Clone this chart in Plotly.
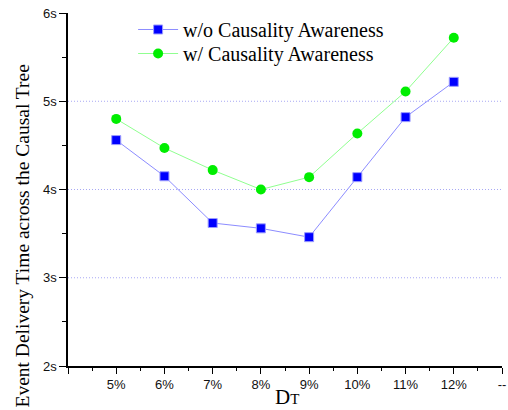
import plotly.graph_objects as go

# Delay threshold positions (4 = axis start, 13 = trailing "--" slot)
x_pos = [5, 6, 7, 8, 9, 10, 11, 12]
tick_vals = [4, 5, 6, 7, 8, 9, 10, 11, 12, 13]
tick_text = ["", "5%", "6%", "7%", "8%", "9%", "10%", "11%", "12%", "--"]

# Event delivery time (seconds)
without_awareness = [4.56, 4.15, 3.62, 3.56, 3.46, 4.14, 4.82, 5.22]
with_awareness = [4.80, 4.47, 4.22, 4.00, 4.14, 4.635, 5.11, 5.72]

y_vals = [2, 3, 4, 5, 6]
y_text = ["2s", "3s", "4s", "5s", "6s"]

serif = "Liberation Serif, Times New Roman, serif"
sans = "Liberation Sans, Arial, sans-serif"

fig = go.Figure()
fig.add_trace(go.Scatter(
    x=x_pos, y=without_awareness, mode="lines+markers",
    name="w/o Causality Awareness", legend="legend",
    line=dict(color="#8c8cff", width=1),
    marker=dict(symbol="square", size=9, color="#0000ff",
                line=dict(color="#9c9cff", width=1)),
))
fig.add_trace(go.Scatter(
    x=x_pos, y=with_awareness, mode="lines+markers",
    name="w/ Causality Awareness", legend="legend2",
    line=dict(color="#90ff90", width=1),
    marker=dict(symbol="circle", size=10, color="#00ee00",
                line=dict(color="#00ff00", width=0)),
))

# Dotted reference lines at 3s, 4s, 5s
for yv in [3, 4, 5]:
    fig.add_shape(type="line", xref="x", yref="y", x0=4, x1=13, y0=yv, y1=yv,
                  line=dict(color="#a8a8f4", width=1, dash="1px,2px"), layer="below")

# Axis titles placed explicitly
fig.add_annotation(text="D<span style='font-size:15px'>T</span>",
                   xref="paper", yref="paper", x=0.505, y=-0.089,
                   xanchor="center", yanchor="middle", showarrow=False,
                   font=dict(family=serif, size=21, color="black"))
fig.add_annotation(text="Event Delivery Time across the Causal Tree",
                   xref="paper", yref="paper", x=-0.105, y=0.368,
                   xanchor="center", yanchor="middle", showarrow=False, textangle=-90,
                   font=dict(family=serif, size=19.5, color="black"))

legend_style = dict(xanchor="left", yanchor="top", bgcolor="rgba(0,0,0,0)",
                    borderwidth=0, font=dict(family=serif, size=20, color="black"),
                    itemwidth=40)

fig.update_layout(
    width=508, height=410,
    margin=dict(l=68, r=6, t=13, b=44),
    plot_bgcolor="white", paper_bgcolor="white",
    showlegend=True,
    legend=dict(x=0.15, y=1.0085, **legend_style),
    legend2=dict(x=0.15, y=0.9405, **legend_style),
    xaxis=dict(
        range=[4, 13], tickmode="array", tickvals=tick_vals, ticktext=tick_text,
        ticks="outside", ticklen=6, tickwidth=1.2, tickcolor="black",
        minor=dict(ticks="outside", ticklen=3, tickwidth=1.2, tickcolor="black", dtick=0.5, showgrid=False),
        showline=True, linecolor="black", linewidth=1.5,
        showgrid=False, zeroline=False, automargin=False,
        tickfont=dict(family=sans, size=13, color="#111"),
    ),
    yaxis=dict(
        range=[2, 6], tickmode="array", tickvals=y_vals, ticktext=y_text,
        ticks="outside", ticklen=7, tickwidth=1.2, tickcolor="black",
        minor=dict(ticks="outside", ticklen=4, tickwidth=1.2, tickcolor="black", dtick=0.5, showgrid=False),
        showline=True, linecolor="black", linewidth=1.5,
        showgrid=False, zeroline=False, automargin=False,
        tickfont=dict(family=sans, size=13, color="#111"),
    ),
)

fig.write_html("out.html")
